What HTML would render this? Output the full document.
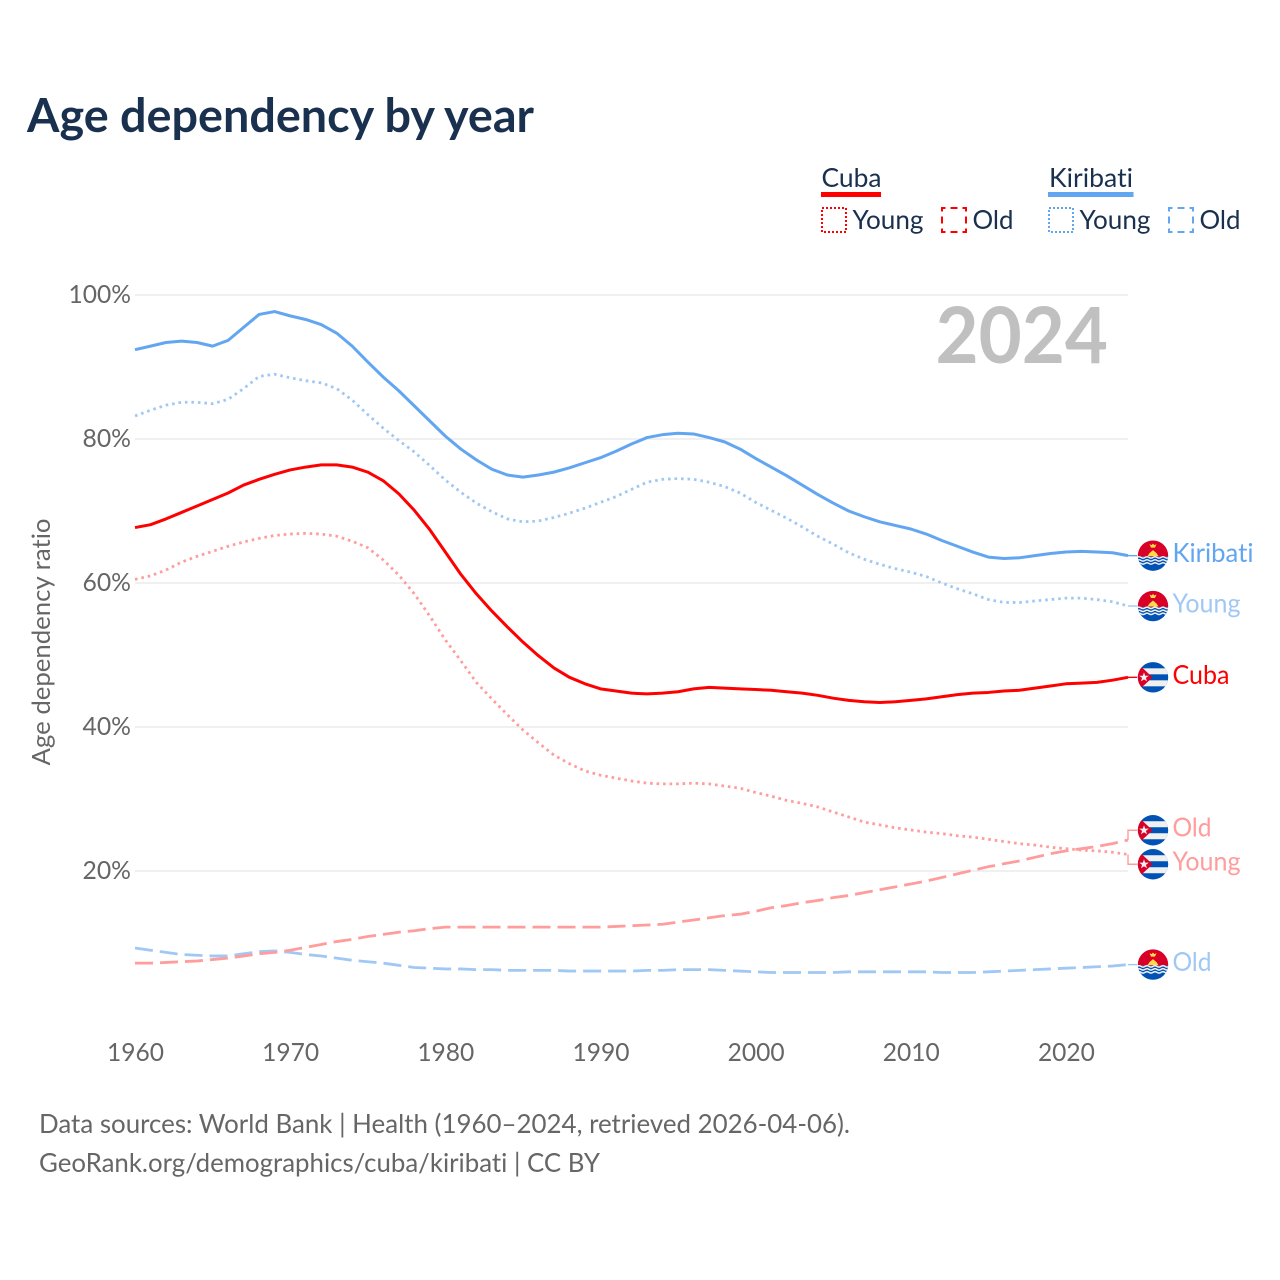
<!DOCTYPE html>
<html lang="en">
<head>
<meta charset="utf-8">
<title>Age dependency by year</title>
<style>
html,body{margin:0;padding:0;background:#fff;}
svg{display:block;}
text{font-family:"Lato","Carlito","Liberation Sans",sans-serif;font-variant-ligatures:none;}
</style>
</head>
<body>
<svg id="chart" xmlns="http://www.w3.org/2000/svg" width="1280" height="1280" viewBox="0 0 1280 1280">
  <defs>
    <clipPath id="flag-clip"><circle cx="0" cy="0" r="15.2"></circle></clipPath>
    <g id="flag-cuba" clip-path="url(#flag-clip)">
      <rect x="-16" y="-16" width="32" height="32" fill="#0052b4"></rect>
      <rect x="-16" y="-9" width="32" height="6" fill="#f0f0f0"></rect>
      <rect x="-16" y="3" width="32" height="6" fill="#f0f0f0"></rect>
      <polygon points="-16,-14.5 -0.5,0 -16,14.5" fill="#d80027"></polygon>
      <polygon points="-9,-5 -7.8,-1.6 -4.2,-1.6 -7.1,0.6 -6,4 -9,2 -12,4 -10.9,0.6 -13.8,-1.6 -10.2,-1.6" fill="#f0f0f0"></polygon>
    </g>
    <g id="flag-kiribati" clip-path="url(#flag-clip)">
      <rect x="-16" y="-16" width="32" height="17" fill="#d80027"></rect>
      <rect x="-16" y="1" width="32" height="15" fill="#0052b4"></rect>
      <path d="M-5.500 0.500 L-3.500 -2.500 L0 -5.500 L3.500 -2.500 L5.500 0.500 Z" fill="#ffda44"></path>
      <polygon points="-3.500,-11.500 -1.500,-10.500 0,-12 1.500,-10.500 3.500,-11.500 2,-8 -2,-8" fill="#ffda44"></polygon>
      <path d="M-16 1.800 q2 -1.400 4 0 t4 0 t4 0 t4 0 t4 0 t4 0 t4 0 t4 0" fill="none" stroke="#f0f0f0" stroke-width="1.500"></path>
      <path d="M-16 4.800 q2 -1.400 4 0 t4 0 t4 0 t4 0 t4 0 t4 0 t4 0 t4 0" fill="none" stroke="#f0f0f0" stroke-width="1.500"></path>
      <path d="M-16 7.800 q2 -1.400 4 0 t4 0 t4 0 t4 0 t4 0 t4 0 t4 0 t4 0" fill="none" stroke="#f0f0f0" stroke-width="1.500"></path>
    </g>
  </defs>

  <text x="27" y="132" font-size="47" font-weight="700" fill="#1a304f" textLength="507" lengthAdjust="spacingAndGlyphs">Age dependency by year</text>

  <g>
    <text x="821.5" y="187" font-size="26" fill="#1a304f" textLength="60" lengthAdjust="spacingAndGlyphs">Cuba</text>
    <rect x="821" y="192" width="60" height="5" fill="#ff0000"></rect>
    <rect x="822" y="208" width="24" height="24" fill="none" stroke="#ff0000" stroke-width="2" stroke-dasharray="2 2"></rect>
    <text x="852.500" y="229" font-size="26" fill="#1a304f" textLength="71" lengthAdjust="spacingAndGlyphs">Young</text>
    <rect x="942" y="208" width="24" height="24" fill="none" stroke="#ff0000" stroke-width="2" stroke-dasharray="7 5" stroke-dashoffset="3.500"></rect>
    <text x="972.500" y="229" font-size="26" fill="#1a304f" textLength="41" lengthAdjust="spacingAndGlyphs">Old</text>
    <text x="1049" y="187" font-size="26" fill="#1a304f" textLength="84" lengthAdjust="spacingAndGlyphs">Kiribati</text>
    <rect x="1048" y="192" width="85.500" height="5" fill="#62a5f0"></rect>
    <rect x="1049" y="208" width="24" height="24" fill="none" stroke="#62a5f0" stroke-width="2" stroke-dasharray="2 2"></rect>
    <text x="1079.500" y="229" font-size="26" fill="#1a304f" textLength="71" lengthAdjust="spacingAndGlyphs">Young</text>
    <rect x="1169" y="208" width="24" height="24" fill="none" stroke="#62a5f0" stroke-width="2" stroke-dasharray="7 5" stroke-dashoffset="3.500"></rect>
    <text x="1199.500" y="229" font-size="26" fill="#1a304f" textLength="41" lengthAdjust="spacingAndGlyphs">Old</text>
  </g>

  <g id="grid"></g>
  <g id="y-axis"></g>
  <g id="x-axis"></g>

  <text x="935.500" y="363" font-size="78" font-weight="700" fill="#c0c0c0" textLength="172.500" lengthAdjust="spacingAndGlyphs">2024</text>

  <text transform="translate(50 642) rotate(-90)" text-anchor="middle" font-size="25" fill="#666666" textLength="247" lengthAdjust="spacingAndGlyphs">Age dependency ratio</text>

  <g id="series"></g>
  <g id="end-labels"></g>

  <text x="39" y="1133" font-size="26" fill="#666666" textLength="811" lengthAdjust="spacingAndGlyphs">Data sources: World Bank | Health (1960–2024, retrieved 2026-04-06).</text>
  <text x="39" y="1172" font-size="26" fill="#666666" textLength="561" lengthAdjust="spacingAndGlyphs">GeoRank.org/demographics/cuba/kiribati | CC BY</text>
</svg>

<script>
const firstYear = 1960;
const lastYear = 2024;
const yTicks = [20, 40, 60, 80, 100];
const yTickLabels = ["20%", "40%", "60%", "80%", "100%"];
const xTicks = [1960, 1970, 1980, 1990, 2000, 2010, 2020];

const kiribatiTotal = [92.4,92.9,93.4,93.6,93.4,92.9,93.7,95.5,97.3,97.7,97.1,96.6,95.9,94.7,92.9,90.7,88.6,86.7,84.6,82.5,80.4,78.6,77.1,75.8,75.0,74.7,75.0,75.4,76.0,76.7,77.4,78.3,79.3,80.2,80.6,80.8,80.7,80.2,79.6,78.6,77.3,76.1,74.9,73.6,72.3,71.1,70.0,69.2,68.5,68.0,67.5,66.8,65.9,65.1,64.3,63.6,63.4,63.5,63.8,64.1,64.3,64.4,64.3,64.2,63.8];
const kiribatiYoung = [83.2,84.0,84.7,85.1,85.1,84.9,85.5,87.0,88.7,89.0,88.5,88.1,87.8,87.0,85.4,83.4,81.5,79.8,78.2,76.3,74.3,72.6,71.1,69.9,68.9,68.5,68.6,69.1,69.7,70.4,71.2,72.0,73.0,74.0,74.4,74.5,74.4,74.0,73.4,72.5,71.2,70.1,69.0,67.8,66.5,65.4,64.2,63.3,62.6,62.0,61.5,60.9,60.0,59.2,58.5,57.7,57.3,57.3,57.5,57.7,57.9,57.9,57.7,57.4,56.8];
const kiribatiOld = [9.3,9.0,8.7,8.4,8.3,8.2,8.2,8.5,8.8,8.9,8.7,8.4,8.2,7.9,7.6,7.4,7.2,6.9,6.6,6.5,6.4,6.4,6.3,6.3,6.2,6.2,6.2,6.2,6.1,6.1,6.1,6.1,6.1,6.2,6.2,6.3,6.3,6.3,6.2,6.1,6.0,5.9,5.9,5.9,5.9,5.9,6.0,6.0,6.0,6.0,6.0,6.0,5.9,5.9,5.9,6.0,6.1,6.2,6.3,6.4,6.5,6.6,6.7,6.8,7.0];
const cubaTotal = [67.7,68.1,68.9,69.8,70.7,71.6,72.5,73.6,74.4,75.1,75.7,76.1,76.4,76.4,76.1,75.4,74.2,72.4,70.1,67.4,64.3,61.2,58.5,56.1,53.9,51.8,49.9,48.2,46.9,46.0,45.3,45.0,44.7,44.6,44.7,44.9,45.3,45.5,45.4,45.3,45.2,45.1,44.9,44.7,44.4,44.0,43.7,43.5,43.4,43.5,43.7,43.9,44.2,44.5,44.7,44.8,45.0,45.1,45.4,45.7,46.0,46.1,46.2,46.5,46.9];
const cubaYoung = [60.5,61.0,61.8,62.9,63.7,64.4,65.1,65.7,66.2,66.6,66.8,66.9,66.8,66.5,65.8,64.9,63.2,61.1,58.5,55.4,52.1,49.2,46.2,43.9,41.7,39.6,37.8,36.1,34.9,33.9,33.3,32.9,32.5,32.2,32.1,32.1,32.2,32.1,31.8,31.5,30.9,30.4,29.8,29.4,28.9,28.2,27.5,26.8,26.4,26.0,25.7,25.4,25.2,24.9,24.7,24.4,24.1,23.8,23.6,23.3,23.1,22.9,22.8,22.6,22.3];
const cubaOld = [7.2,7.2,7.3,7.4,7.5,7.7,7.9,8.2,8.5,8.7,9.0,9.4,9.8,10.2,10.5,10.9,11.2,11.5,11.7,12.0,12.2,12.2,12.2,12.2,12.2,12.2,12.2,12.2,12.2,12.2,12.2,12.3,12.4,12.5,12.6,12.9,13.2,13.5,13.8,14.0,14.4,14.9,15.2,15.6,15.9,16.3,16.6,17.0,17.4,17.8,18.2,18.6,19.1,19.6,20.1,20.6,21.0,21.4,21.9,22.4,22.8,23.1,23.4,23.8,24.3];

const NS = "http://www.w3.org/2000/svg";
const plot = {left: 135, right: 1128, zeroY: 1015, hundredY: 295};
function xScale(year) {
  return plot.left + (year - firstYear) * (plot.right - plot.left) / (lastYear - firstYear);
}
function yScale(value) {
  return plot.zeroY + value * (plot.hundredY - plot.zeroY) / 100;
}
function makeSvg(tag, parent) {
  const el = document.createElementNS(NS, tag);
  parent.appendChild(el);
  return el;
}

const gridGroup = document.getElementById("grid");
const yGroup = document.getElementById("y-axis");
yTicks.forEach(function (tick, i) {
  const line = makeSvg("line", gridGroup);
  
  
  line.setAttribute("x1", plot.left);
  line.setAttribute("x2", plot.right);
  line.setAttribute("y1", yScale(tick));
  line.setAttribute("y2", yScale(tick));
  line.setAttribute("stroke", "#e8e8e8");
  line.setAttribute("stroke-width", "1.3");
  const label = makeSvg("text", yGroup);
  
  
  label.setAttribute("x", 131);
  label.setAttribute("y", yScale(tick) + 8);
  label.setAttribute("text-anchor", "end");
  label.setAttribute("font-size", "25");
  label.setAttribute("fill", "#666666");
  label.setAttribute("textLength", yTickLabels[i].length > 3 ? 62.5 : 48.5);
  label.setAttribute("lengthAdjust", "spacingAndGlyphs");
  label.textContent = yTickLabels[i];
});

const xGroup = document.getElementById("x-axis");
xTicks.forEach(function (tick) {
  const label = makeSvg("text", xGroup);
  
  
  label.setAttribute("x", xScale(tick) + 0.5);
  label.setAttribute("y", 1061);
  label.setAttribute("text-anchor", "middle");
  label.setAttribute("font-size", "25");
  label.setAttribute("fill", "#666666");
  label.setAttribute("textLength", "57");
  label.setAttribute("lengthAdjust", "spacingAndGlyphs");
  label.textContent = String(tick);
});

const seriesList = [
  {key: "kiribati-old", values: kiribatiOld, color: "#a0c8f4", dash: "18 7", label: "Old", flag: "flag-kiribati", width: 39, stroke: 2.8},
  {key: "cuba-old", values: cubaOld, color: "#ff9c9c", dash: "18 7", label: "Old", flag: "flag-cuba", width: 39, stroke: 2.8},
  {key: "kiribati-young", values: kiribatiYoung, color: "#a0c8f4", dash: "2.6 3.9", label: "Young", flag: "flag-kiribati", width: 68, stroke: 2.8},
  {key: "cuba-young", values: cubaYoung, color: "#ff9c9c", dash: "2.6 3.9", label: "Young", flag: "flag-cuba", width: 68, stroke: 2.8},
  {key: "kiribati-total", values: kiribatiTotal, color: "#62a5f0", dash: "", label: "Kiribati", flag: "flag-kiribati", width: 81, stroke: 3},
  {key: "cuba-total", values: cubaTotal, color: "#ff0000", dash: "", label: "Cuba", flag: "flag-cuba", width: 57, stroke: 3}
];

const seriesGroup = document.getElementById("series");
seriesList.forEach(function (s) {
  const path = makeSvg("path", seriesGroup);
  
  
  let d = "";
  s.values.forEach(function (v, i) {
    d += (i ? "L" : "M") + xScale(firstYear + i).toFixed(2) + " " + yScale(v).toFixed(2);
  });
  path.setAttribute("d", d);
  path.setAttribute("fill", "none");
  path.setAttribute("stroke", s.color);
  path.setAttribute("stroke-width", s.stroke);
  path.setAttribute("stroke-linejoin", "round");
  if (s.dash) path.setAttribute("stroke-dasharray", s.dash);
});

/* Dodge end labels so flags never overlap (minimum 34px apart). */
const minGap = 34;
const ends = seriesList.map(function (s) {
  const y0 = yScale(s.values[s.values.length - 1]);
  return {s: s, y0: y0, y: y0};
}).sort(function (a, b) { return a.y0 - b.y0; });
for (let pass = 0; pass < 5; pass++) {
  for (let i = 1; i < ends.length; i++) {
    const overlap = minGap - (ends[i].y - ends[i - 1].y);
    if (overlap > 0) {
      ends[i - 1].y -= overlap / 2;
      ends[i].y += overlap / 2;
    }
  }
}

const endGroup = document.getElementById("end-labels");
ends.forEach(function (e) {
  const s = e.s;
  const connector = makeSvg("path", endGroup);
  
  
  connector.setAttribute("d", "M1128 " + e.y0.toFixed(2) + "V" + e.y.toFixed(2) + "H1137");
  connector.setAttribute("fill", "none");
  connector.setAttribute("stroke", s.color);
  connector.setAttribute("stroke-width", "1.4");

  const flag = makeSvg("use", endGroup);
  
  
  flag.setAttribute("href", "#" + s.flag);
  flag.setAttribute("transform", "translate(1153 " + e.y.toFixed(2) + ")");

  const text = makeSvg("text", endGroup);
  
  
  text.setAttribute("x", 1172.5);
  text.setAttribute("y", (e.y + 6.5).toFixed(2));
  text.setAttribute("font-size", "26");
  text.setAttribute("fill", s.color);
  text.setAttribute("textLength", s.width);
  text.setAttribute("lengthAdjust", "spacingAndGlyphs");
  text.textContent = s.label;
});
</script>
</body>
</html>
